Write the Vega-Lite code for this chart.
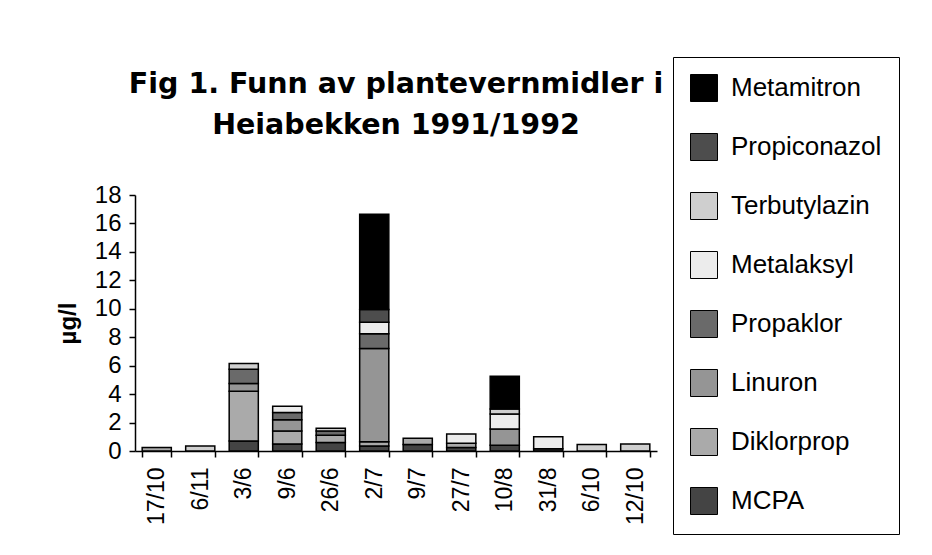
{
  "$schema": "https://vega.github.io/schema/vega-lite/v6.json",
  "autosize": "none",
  "width": 522,
  "height": 256,
  "padding": {"left": 135, "top": 195, "right": 275, "bottom": 104},
  "background": "white",
  "title": {
    "text": ["Fig 1. Funn av  plantevernmidler i", "Heiabekken 1991/1992"],
    "anchor": "middle",
    "frame": "group",
    "font": "DejaVu Sans",
    "fontSize": 28.5,
    "fontWeight": "bold",
    "lineHeight": 41,
    "offset": -83,
    "color": "#000"
  },
  "data": {
    "values": [
      {"dato": "17/10", "stoff": "Diklorprop", "verdi": 0.25},
      {"dato": "6/11", "stoff": "Terbutylazin", "verdi": 0.35},
      {"dato": "3/6", "stoff": "MCPA", "verdi": 0.7},
      {"dato": "3/6", "stoff": "Diklorprop", "verdi": 3.5},
      {"dato": "3/6", "stoff": "Linuron", "verdi": 0.55},
      {"dato": "3/6", "stoff": "Propaklor", "verdi": 1.0},
      {"dato": "3/6", "stoff": "Terbutylazin", "verdi": 0.4},
      {"dato": "9/6", "stoff": "MCPA", "verdi": 0.5},
      {"dato": "9/6", "stoff": "Diklorprop", "verdi": 0.9},
      {"dato": "9/6", "stoff": "Linuron", "verdi": 0.8},
      {"dato": "9/6", "stoff": "Propaklor", "verdi": 0.5},
      {"dato": "9/6", "stoff": "Metalaksyl", "verdi": 0.45},
      {"dato": "26/6", "stoff": "MCPA", "verdi": 0.6},
      {"dato": "26/6", "stoff": "Diklorprop", "verdi": 0.5},
      {"dato": "26/6", "stoff": "Propaklor", "verdi": 0.3},
      {"dato": "26/6", "stoff": "Terbutylazin", "verdi": 0.2},
      {"dato": "2/7", "stoff": "MCPA", "verdi": 0.35},
      {"dato": "2/7", "stoff": "Diklorprop", "verdi": 0.3},
      {"dato": "2/7", "stoff": "Linuron", "verdi": 6.55},
      {"dato": "2/7", "stoff": "Propaklor", "verdi": 1.05},
      {"dato": "2/7", "stoff": "Metalaksyl", "verdi": 0.8},
      {"dato": "2/7", "stoff": "Propiconazol", "verdi": 0.9},
      {"dato": "2/7", "stoff": "Metamitron", "verdi": 6.7},
      {"dato": "9/7", "stoff": "MCPA", "verdi": 0.45},
      {"dato": "9/7", "stoff": "Diklorprop", "verdi": 0.45},
      {"dato": "27/7", "stoff": "MCPA", "verdi": 0.25},
      {"dato": "27/7", "stoff": "Diklorprop", "verdi": 0.3},
      {"dato": "27/7", "stoff": "Metalaksyl", "verdi": 0.65},
      {"dato": "10/8", "stoff": "MCPA", "verdi": 0.4},
      {"dato": "10/8", "stoff": "Linuron", "verdi": 1.15},
      {"dato": "10/8", "stoff": "Metalaksyl", "verdi": 1.05},
      {"dato": "10/8", "stoff": "Terbutylazin", "verdi": 0.35},
      {"dato": "10/8", "stoff": "Metamitron", "verdi": 2.3},
      {"dato": "31/8", "stoff": "MCPA", "verdi": 0.15},
      {"dato": "31/8", "stoff": "Metalaksyl", "verdi": 0.85},
      {"dato": "6/10", "stoff": "Terbutylazin", "verdi": 0.45},
      {"dato": "12/10", "stoff": "Terbutylazin", "verdi": 0.5}
    ]
  },
  "transform": [
    {
      "lookup": "stoff",
      "from": {
        "data": {
          "values": [
            {"stoff": "MCPA", "rang": 1},
            {"stoff": "Diklorprop", "rang": 2},
            {"stoff": "Linuron", "rang": 3},
            {"stoff": "Propaklor", "rang": 4},
            {"stoff": "Metalaksyl", "rang": 5},
            {"stoff": "Terbutylazin", "rang": 6},
            {"stoff": "Propiconazol", "rang": 7},
            {"stoff": "Metamitron", "rang": 8}
          ]
        },
        "key": "stoff",
        "fields": ["rang"]
      }
    }
  ],
  "mark": {"type": "bar", "stroke": "#000", "strokeWidth": 1.5},
  "encoding": {
    "x": {
      "field": "dato",
      "type": "nominal",
      "sort": ["17/10", "6/11", "3/6", "9/6", "26/6", "2/7", "9/7", "27/7", "10/8", "31/8", "6/10", "12/10"],
      "scale": {"paddingInner": 0.33, "paddingOuter": 0.165},
      "axis": {
        "title": null,
        "labelAngle": -90,
        "labelFont": "Liberation Sans",
        "labelFontSize": 23,
        "labelColor": "#000",
        "labelPadding": 10,
        "tickBand": "extent",
        "tickSize": 6,
        "tickColor": "#000",
        "tickWidth": 1.5,
        "domainColor": "#000",
        "domainWidth": 1.5
      }
    },
    "y": {
      "field": "verdi",
      "type": "quantitative",
      "stack": "zero",
      "scale": {"domain": [0, 18], "nice": false},
      "axis": {
        "title": "µg/l",
        "titleFont": "Liberation Sans",
        "titleFontSize": 24,
        "titleFontWeight": "bold",
        "titleColor": "#000",
        "titlePadding": 14,
        "values": [0, 2, 4, 6, 8, 10, 12, 14, 16, 18],
        "grid": false,
        "labelFont": "Liberation Sans",
        "labelFontSize": 24,
        "labelColor": "#000",
        "labelPadding": 8,
        "tickSize": 6,
        "tickColor": "#000",
        "tickWidth": 1.5,
        "domainColor": "#000",
        "domainWidth": 1.5
      }
    },
    "order": {"field": "rang", "type": "quantitative", "sort": "ascending"},
    "color": {
      "field": "stoff",
      "type": "nominal",
      "sort": ["Metamitron", "Propiconazol", "Terbutylazin", "Metalaksyl", "Propaklor", "Linuron", "Diklorprop", "MCPA"],
      "scale": {
        "domain": ["Metamitron", "Propiconazol", "Terbutylazin", "Metalaksyl", "Propaklor", "Linuron", "Diklorprop", "MCPA"],
        "range": ["#000000", "#4d4d4d", "#cfcfcf", "#ececec", "#6a6a6a", "#959595", "#aaaaaa", "#444444"]
      },
      "legend": {
        "title": null,
        "orient": "none",
        "legendX": 538,
        "legendY": -138,
        "strokeColor": "#000",
        "padding": 17,
        "symbolType": "square",
        "symbolSize": 729,
        "symbolStrokeColor": "#000",
        "symbolStrokeWidth": 1,
        "labelFont": "Liberation Sans",
        "labelFontSize": 26,
        "labelColor": "#000",
        "labelOffset": 13,
        "labelLimit": 300,
        "rowPadding": 27
      }
    }
  },
  "config": {"view": {"stroke": null}}
}
